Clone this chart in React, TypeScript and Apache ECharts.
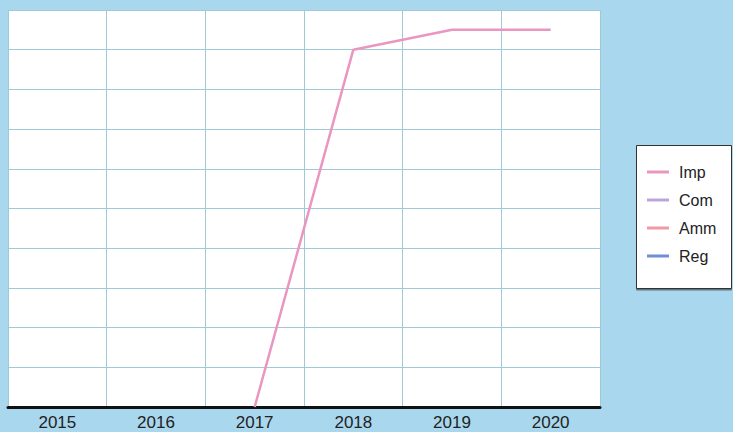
import React, { useEffect, useRef } from "react";
import * as echarts from "echarts";

const years = ["2015", "2016", "2017", "2018", "2019", "2020"];
const seriesNames = ["Imp", "Com", "Amm", "Reg"];
const impValues: (number | null)[] = [null, null, 0, 9, 9.5, 9.5];
const comValues: (number | null)[] = [null, null, null, null, null, null];
const ammValues: (number | null)[] = [null, null, null, null, null, null];
const regValues: (number | null)[] = [null, null, null, null, null, null];
const seriesColors = ["#ea96c0", "#bba6dc", "#ef9aa4", "#6f8ed3"];

export default function App() {
  const ref = useRef<HTMLDivElement>(null);
  useEffect(() => {
    if (!ref.current) return;
    const chart = echarts.init(ref.current, null, { renderer: "svg" });
    const allData = [impValues, comValues, ammValues, regValues];
    const font = "Liberation Sans, Arial, sans-serif";
    chart.setOption({
      animation: false,
      backgroundColor: "#a9d7ee",
      textStyle: { fontFamily: font },
      grid: {
        left: 8,
        top: 10,
        width: 592,
        height: 397,
        show: true,
        backgroundColor: "#ffffff",
        borderWidth: 0,
      },
      xAxis: {
        type: "category",
        data: years,
        boundaryGap: true,
        axisLine: { show: true, lineStyle: { color: "#111111", width: 3 } },
        axisTick: { show: false },
        axisLabel: {
          color: "#222222",
          fontSize: 17,
          margin: 7,
          fontFamily: font,
        },
        splitLine: { show: true, interval: 0, lineStyle: { color: "#9fc9d8", width: 1 } },
      },
      yAxis: {
        type: "value",
        min: 0,
        max: 10,
        interval: 1,
        axisLine: { show: false },
        axisTick: { show: false },
        axisLabel: { show: false },
        splitLine: { show: true, lineStyle: { color: "#9fc9d8", width: 1 } },
      },
      legend: {
        orient: "vertical",
        left: 647,
        top: 163,
        itemWidth: 22,
        itemHeight: 3,
        itemGap: 10,
        padding: 0,
        icon: "rect",
        data: seriesNames,
        textStyle: {
          fontSize: 16,
          color: "#222222",
          lineHeight: 18,
          padding: [0, 0, 0, 5],
          fontFamily: font,
        },
      },
      graphic: [
        {
          type: "rect",
          left: 636,
          top: 145,
          z: -1,
          shape: { width: 95, height: 143 },
          style: {
            fill: "#ffffff",
            stroke: "#333333",
            lineWidth: 1,
            shadowColor: "rgba(0,0,0,0.45)",
            shadowOffsetY: 1.5,
            shadowOffsetX: 0,
            shadowBlur: 1,
          },
        },
      ],
      series: seriesNames.map((name, i) => ({
        name,
        type: "line",
        data: allData[i],
        symbol: "none",
        color: seriesColors[i],
        lineStyle: { color: seriesColors[i], width: 2.5 },
        connectNulls: false,
      })),
    });
    return () => chart.dispose();
  }, []);
  return (
    <div
      ref={ref}
      style={{ position: "fixed", left: 0, top: 0, width: 733, height: 432 }}
    />
  );
}
